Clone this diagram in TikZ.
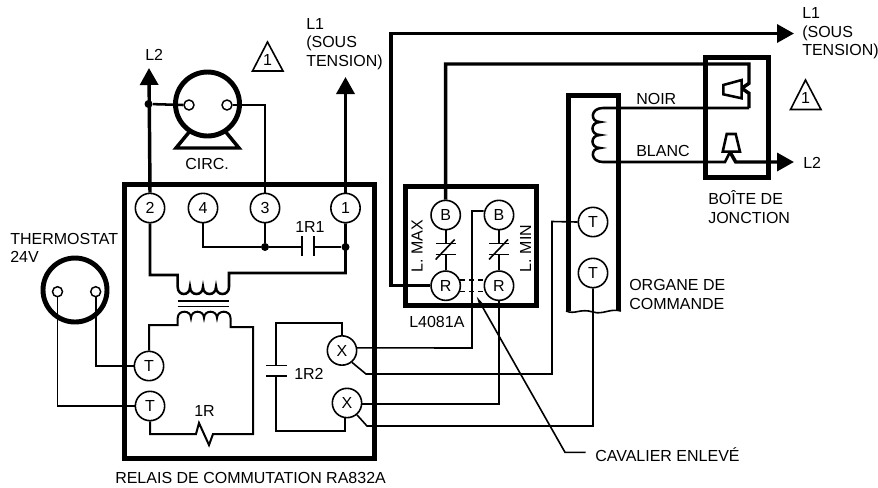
\documentclass[tikz,border=0pt]{standalone}
\usepackage{fontspec}
\setmainfont{Liberation Sans}
\usetikzlibrary{calc,positioning,shapes,arrows.meta}

\begin{document}
\begin{tikzpicture}[x=.75pt,y=-.75pt]
	\tikzstyle{terminal}=[circle, draw=black, line width=1.2pt, fill=white, inner sep=0pt, minimum size=22pt, font=\fontsize{12}{14}\selectfont]
	\tikzstyle{contact}=[circle, draw=black, line width=1.1pt, fill=white, inner sep=0pt, minimum size=7.5pt]
	\tikzstyle{dial}=[circle, draw=black, line width=3.7pt, inner sep=0pt, minimum size=48pt]
	\tikzstyle{label}=[inner sep=0pt, anchor=west, align=left, font=\fontsize{12}{13.8}\selectfont]
	\tikzstyle{dot}=[circle, fill=black, inner sep=0pt, minimum size=6pt]
	\tikzstyle{casing}=[line width=3.75pt, draw=black]
	\tikzstyle{heavy}=[line width=2.6pt, draw=black]
	\tikzstyle{wire}=[line width=1.9pt, draw=black]
	\tikzstyle{thinwire}=[line width=1.2pt, draw=black]
	\tikzstyle{jumper}=[line width=1.4pt, draw=black, dash pattern=on 3.75pt off 3pt]
	\tikzstyle{feed}=[heavy, -{Triangle[length=12.75pt,width=13.5pt]}]

	\useasboundingbox (0,0) rectangle (878,487);

	% casings
	\draw[casing] (124.5,184.5) rectangle (374.5,458.5);
	\draw[casing] (405.5,186.5) rectangle (536.5,305.5);
	\draw[casing] (705,57.5) rectangle (768,177);
	\draw[casing] (568.5,311) -- (568.5,95) -- (618.5,95) -- (618.5,311);
	\draw[thinwire] (566,311) .. controls (575,315) and (580,308) .. (593,312) .. controls (603,315) and (610,308) .. (621,311);

	% relay terminals
	\node (t2) [terminal] at (150,208) {2};
	\node (t4) [terminal] at (203,208) {4};
	\node (t3) [terminal] at (265,208) {3};
	\node (t1) [terminal] at (345.5,208) {1};
	\node (ta) [terminal] at (149,366) {T};
	\node (tb) [terminal] at (150,406) {T};
	\node (xa) [terminal] at (342,350.5) {X};
	\node (xb) [terminal] at (347,403) {X};

	% limit terminals
	\node (ba) [terminal] at (445.7,215) {B};
	\node (bb) [terminal] at (499,215) {B};
	\node (ra) [terminal] at (445.7,285.7) {R};
	\node (rb) [terminal] at (499,285.7) {R};

	% actuator terminals
	\node (ma) [terminal] at (593,222) {T};
	\node (mb) [terminal] at (593,273) {T};

	% circulator and thermostat
	\node (circ) [dial] at (207.5,104) {};
	\node (circa) [contact] at (189,105) {};
	\node (circb) [contact] at (227,105) {};
	\node (therm) [dial] at (75,290) {};
	\node (thermb) [contact] at (57.5,291.7) {};
	\node (therma) [contact] at (95.7,291.7) {};
	\node (dotl) [dot] at (148.5,104) {};
	\node (dotb) [dot] at (265,247) {};
	\node (dotc) [dot] at (345.5,247) {};

	\draw[heavy] (190,131) -- (176,148) -- (239,148) -- (225,131);

	% free ends
	\coordinate (l2tip) at (149,68);
	\coordinate (l1tip) at (345.5,77);
	\coordinate (ltop) at (794,33.5);
	\coordinate (lside) at (794,162);
	\coordinate (cavtip) at (476.7,296.7);
	\coordinate (cavend) at (585.7,452.3);

	% texts
	\node (l2a) [label] at (145,55) {L2};
	\node (l1a) [label] at (306,44) {L1\\(SOUS\\TENSION)};
	\node (l1b) [label] at (802,33.5) {L1\\(SOUS\\TENSION)};
	\node (l2b) [label] at (803,163) {L2};
	\node (circl) [label] at (185,164) {CIRC.};
	\node (therml) [label] at (10,248) {THERMOSTAT\\24V};
	\node (relayl) [label] at (115,478) {RELAIS DE COMMUTATION RA832A};
	\node (r1l) [label] at (295,227) {1R1};
	\node (r2l) [label] at (294,374) {1R2};
	\node (rl) [label] at (194,411) {1R};
	\node (limitl) [label] at (409,322) {L4081A};
	\node (maxl) [label, anchor=center, rotate=90] at (417,246) {L. MAX};
	\node (minl) [label, anchor=center, rotate=90] at (525.7,248.5) {L. MIN};
	\node (noirl) [label] at (636,99) {NOIR};
	\node (blancl) [label] at (636,151) {BLANC};
	\node (boxl) [label] at (708,207) {BOÎTE DE\\JONCTION};
	\node (orgl) [label] at (629,294.5) {ORGANE DE\\COMMANDE};
	\node (cavl) [label] at (595,455) {CAVALIER ENLEVÉ};

	% warning marks
	\draw[thinwire] (267.5,42) -- (252.5,71) -- (283,71) -- cycle;
	\node (warna) [label, anchor=center] at (267.5,60) {1};
	\draw[thinwire] (805.5,80) -- (790.5,109.5) -- (821,109.5) -- cycle;
	\node (warnb) [label, anchor=center] at (805.5,98) {1};

	% line side
	\draw[feed] (t2.north) -- (l2tip);
	\draw[feed] (t1.north) -- (l1tip);
	\draw[wire] (dotl) -- (circa.west);
	\draw[wire] (circb.east) -| (t3.north);

	% relay inside
	\draw[wire] (t4.south) |- (dotb);
	\draw[wire] (t3.south) -- (dotb);
	\draw[wire] (dotb) -- (302,247);
	\draw[wire] (302,236) -- (302,256);
	\draw[wire] (314,236) -- (314,256);
	\draw[wire] (314,247) -- (dotc);
	\draw[wire] (t1.south) |- (229,273) -- (229,287)
		.. controls (229,296.3) and (216,296.3) .. (216,287)
		.. controls (216,296.3) and (203,296.3) .. (203,287)
		.. controls (203,296.3) and (190,296.3) .. (190,287)
		.. controls (190,296.3) and (177.7,296.3) .. (177.7,287)
		-- (177.7,275) -| (t2.south);
	\draw[thinwire] (177.5,300.7) -- (229,300.7);
	\draw[thinwire] (177.5,306.3) -- (229,306.3);
	\draw[wire, line width=1.5pt] (ta.north) |- (177.7,325) -- (177.7,318)
		.. controls (177.7,309.6) and (191,309.6) .. (191,318)
		.. controls (191,309.6) and (204,309.6) .. (204,318)
		.. controls (204,309.6) and (217,309.6) .. (217,318)
		.. controls (217,309.6) and (230.5,309.6) .. (230.5,318)
		-- (230.5,327) -- (253,327) |- (213,434) -- (209,445) -- (199,423) -- (196,434) -| (tb.south);
	\draw[thinwire] (xa.north) |- (276,323) -- (276,365.5);
	\draw[thinwire] (266,365.5) -- (287,365.5);
	\draw[thinwire] (266,376) -- (287,376);
	\draw[thinwire] (276,376) |- (345,431) -- (xb.south -| 345,431);

	% thermostat
	\draw[thinwire] (therma.south) |- (ta.west);
	\draw[thinwire] (thermb.south) |- (tb.west);

	% limit contacts
	\foreach \a/\b in {ba/ra,bb/rb} {
		\draw[thinwire] (\a.south) -- ++(0,13) ++(-10,0) -- ++(20,0);
		\draw[thinwire] (\b.north) -- ++(0,-15.7) ++(-10,0) -- ++(20,0);
		\draw[thinwire] ($(\a.south)+(-10,29)$) -- ($(\a.south)+(9,9)$);
	}
	\draw[jumper] (ra.22) -- (rb.158);
	\draw[jumper] (ra.-22) -- (rb.202);

	% outgoing wiring
	\draw[thinwire] (xa.10) -- (472,348) -- (472,211) -- (bb.west |- 472,211);
	\draw[thinwire] (xa.-50) -- (366,374) -| (552,221.5) -- (ma.west);
	\draw[thinwire] (xb.-4) -| (rb.south);
	\draw[thinwire] (xb.-50) -- (367,426) -| (mb.south);

	% long feeds
	\draw[feed] (ra.west) -| (391,33.5) -- (ltop);
	\draw[heavy] (ba.north) |- (749,64) -- (749,83.3) -- (741.7,88.3) -- (749,93.3) -- (749,108);
	\draw[wire] (749,108) -- (603,108)
		.. controls (590,108) and (590,122) .. (600,122)
		.. controls (590,122) and (590,135) .. (600,135)
		.. controls (590,135) and (590,148) .. (600,148)
		.. controls (590,148) and (590,162) .. (603,162)
		-- (725,162) -- (730,152);
	\draw[feed] (730,152) -- (735.7,162) -- (lside);

	% horns
	\draw[wire, fill=white] (723.3,85) -- (741.7,80) -- (741.7,98.3) -- (723.3,94.3) -- cycle;
	\draw[wire, fill=white] (726.7,134) -- (735.7,134) -- (740,151.7) -- (722.7,151.7) -- cycle;

	% pointer
	\draw[thinwire, -{Stealth[length=8pt,width=3.5pt]}] (cavend) -- (565,452.3) -- (cavtip);
\end{tikzpicture}
\end{document}
